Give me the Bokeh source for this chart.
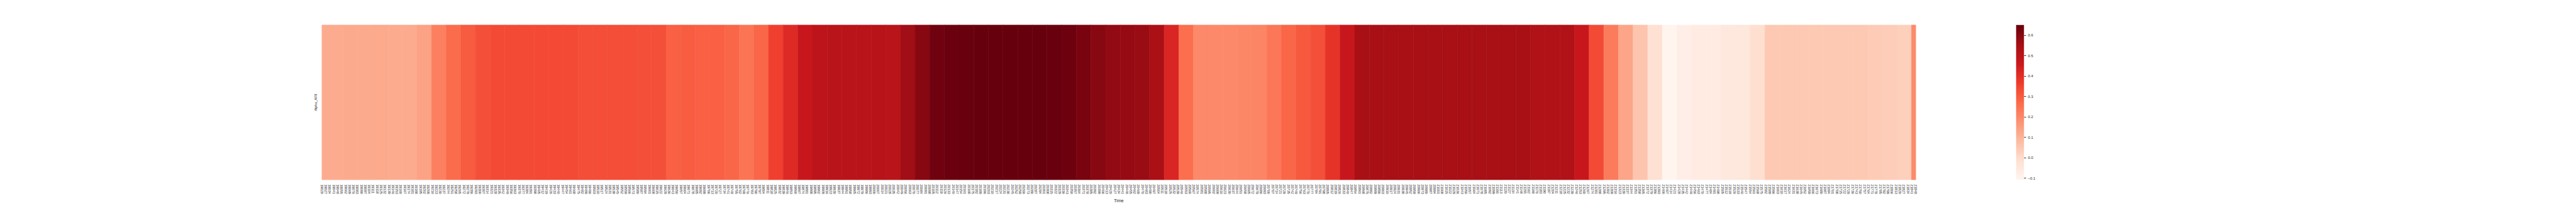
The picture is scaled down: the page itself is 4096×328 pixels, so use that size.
import numpy as np
from bokeh.plotting import figure
from bokeh.models import (ColumnDataSource, LinearColorMapper, FixedTicker,
                          BasicTickFormatter, CustomJSTickFormatter, Range1d)
from bokeh.transform import transform
from bokeh.palettes import Reds256
from bokeh.layouts import row
from bokeh.embed import file_html
from bokeh.resources import INLINE

# ---------------- data ----------------
first_day = 19020
last_day = 21848
# blocks of constant value (start day of each block)
block_starts = [19020] + list(range(19033, 21849, 26))
block_values = [
    0.118, 0.118, 0.121, 0.123, 0.125, 0.119, 0.119, 0.139, 0.221, 0.267,
    0.304, 0.326, 0.334, 0.336, 0.336, 0.338, 0.338, 0.336, 0.330, 0.330,
    0.328, 0.328, 0.325, 0.325, 0.290, 0.296, 0.292, 0.292, 0.280, 0.245,
    0.280, 0.360, 0.413, 0.469, 0.499, 0.505, 0.505, 0.508, 0.510, 0.508,
    0.560, 0.599, 0.639, 0.643, 0.648, 0.650, 0.651, 0.651, 0.650, 0.649,
    0.647, 0.640, 0.622, 0.600, 0.585, 0.578, 0.572, 0.539, 0.424, 0.262,
    0.198, 0.196, 0.200, 0.203, 0.207, 0.240, 0.280, 0.305, 0.327, 0.388,
    0.470, 0.546, 0.546, 0.548, 0.548, 0.548, 0.548, 0.548, 0.548, 0.548,
    0.548, 0.548, 0.548, 0.527, 0.527, 0.527, 0.468, 0.336, 0.229, 0.133,
    0.056, -0.014, -0.100, -0.076, -0.063, -0.062, -0.050, -0.044, -0.010, 0.048,
    0.048, 0.049, 0.048, 0.048, 0.049, 0.048, 0.043, 0.036, 0.030, 0.193,
]
row_label = "Alpha_AF8"
x_label = "Time"
tick_days = list(range(19020, 21849, 7))
cbar_ticks = [-0.1, 0.0, 0.1, 0.2, 0.3, 0.4, 0.5, 0.6]
vmin, vmax = -0.108, 0.651

# ---------------- palette ----------------
pal = list(Reds256)
def _lum(h):
    h = h.lstrip('#')
    return int(h[0:2], 16) + int(h[2:4], 16) + int(h[4:6], 16)
if _lum(pal[0]) < _lum(pal[-1]):
    pal = pal[::-1]
mapper = LinearColorMapper(palette=pal, low=vmin, high=vmax)

TXT = "#262626"
FONT = "Liberation Sans"

# ---------------- heatmap ----------------
block_ends = [s - 1 for s in block_starts[1:]] + [last_day]
src = ColumnDataSource(dict(
    left=[s - 0.5 for s in block_starts],
    right=[e + 0.5 for e in block_ends],
    bottom=[0] * len(block_starts),
    top=[1] * len(block_starts),
    value=block_values,
))

pA = figure(output_backend="svg", toolbar_location=None,
            frame_width=2535, frame_height=247,
            min_border_left=511, min_border_right=50,
            min_border_top=39, min_border_bottom=40,
            x_range=Range1d(first_day - 0.5, last_day + 0.5),
            y_range=Range1d(1, 0))
pA.quad(left='left', right='right', bottom='bottom', top='top', source=src,
        fill_color=transform('value', mapper),
        line_color=transform('value', mapper), line_width=0.6)

pA.xaxis.ticker = FixedTicker(ticks=tick_days)
pA.xaxis.formatter = BasicTickFormatter(use_scientific=False)
pA.xaxis.major_label_orientation = "vertical"
pA.xaxis.axis_label = x_label
pA.yaxis.ticker = FixedTicker(ticks=[0.5])
pA.yaxis.major_label_overrides = {0.5: row_label}
pA.yaxis.major_label_orientation = "vertical"

for ax in (pA.xaxis, pA.yaxis):
    ax.axis_line_color = None
    ax.major_tick_line_color = None
    ax.minor_tick_line_color = None
    ax.major_tick_out = 0
    ax.major_tick_in = 0
    ax.major_label_standoff = 7
    ax.major_label_text_font = FONT
    ax.major_label_text_font_size = "5.5px"
    ax.major_label_text_color = TXT
    ax.axis_label_text_font = FONT
    ax.axis_label_text_font_size = "7px"
    ax.axis_label_text_font_style = "normal"
    ax.axis_label_text_color = TXT
pA.xaxis.axis_label_standoff = 4
pA.grid.visible = False
pA.outline_line_color = None
pA.background_fill_color = "white"
pA.border_fill_color = "white"

# ---------------- colorbar ----------------
pB = figure(output_backend="svg", toolbar_location=None,
            frame_width=13, frame_height=247,
            min_border_left=109, min_border_right=60,
            min_border_top=39, min_border_bottom=40,
            x_range=Range1d(0, 1), y_range=Range1d(vmin, vmax),
            y_axis_location="right")
grad = np.linspace(vmin, vmax, 256).reshape(256, 1)
pB.image(image=[grad], x=0, y=vmin, dw=1, dh=vmax - vmin, color_mapper=mapper)
pB.xaxis.visible = False
pB.yaxis.ticker = FixedTicker(ticks=cbar_ticks)
pB.yaxis.formatter = CustomJSTickFormatter(
    code="return tick < 0 ? '\\u2212' + Math.abs(tick).toFixed(1) : tick.toFixed(1);")
pB.yaxis.axis_line_color = None
pB.yaxis.minor_tick_line_color = None
pB.yaxis.major_tick_line_color = TXT
pB.yaxis.major_tick_line_width = 1
pB.yaxis.major_tick_out = 3
pB.yaxis.major_tick_in = 0
pB.yaxis.major_label_standoff = 3
pB.yaxis.major_label_text_font = FONT
pB.yaxis.major_label_text_font_size = "6px"
pB.yaxis.major_label_text_color = TXT
pB.grid.visible = False
pB.outline_line_color = None
pB.background_fill_color = "white"
pB.border_fill_color = "white"

layout = row(pA, pB)
open("out.html", "w").write(file_html(layout, INLINE))
